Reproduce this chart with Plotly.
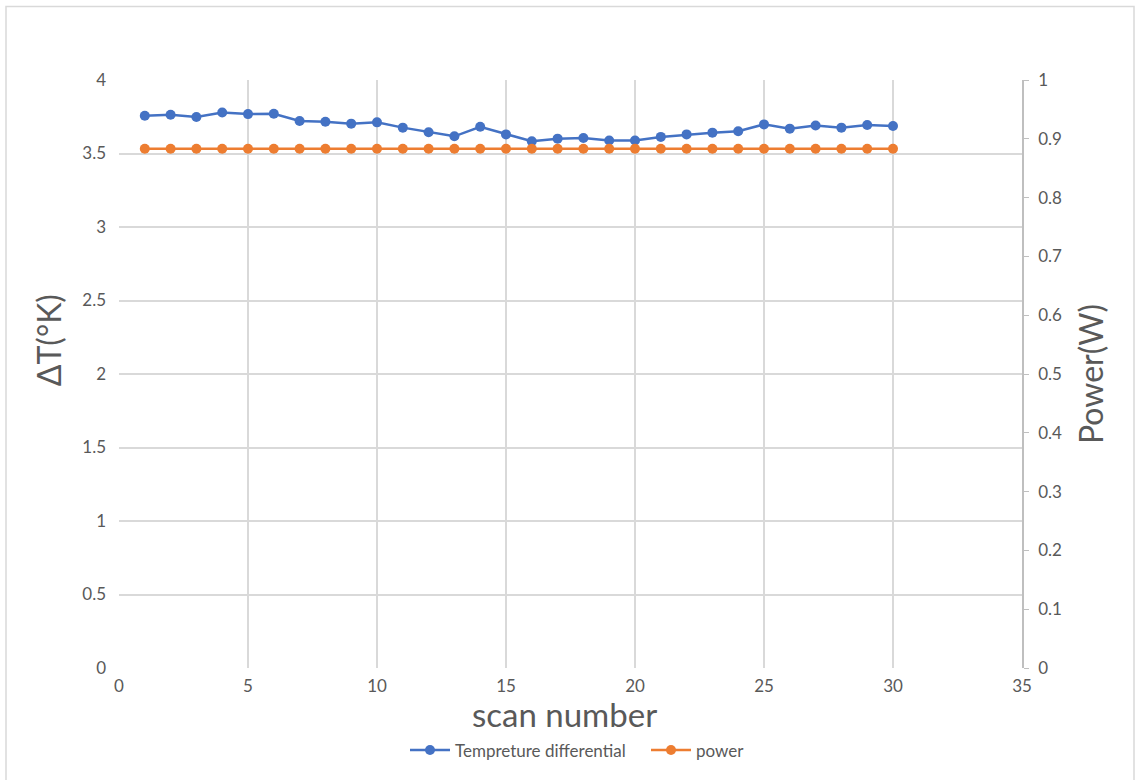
import plotly.graph_objects as go

# Scan index and measured series
scan_number = list(range(1, 31))
temp_diff = [3.757, 3.764, 3.748, 3.779, 3.768, 3.770, 3.721, 3.716, 3.703, 3.712,
             3.676, 3.644, 3.617, 3.682, 3.630, 3.583, 3.601, 3.606, 3.588, 3.588,
             3.613, 3.630, 3.642, 3.651, 3.698, 3.669, 3.691, 3.676, 3.694, 3.687]
power = [0.883] * 30

BLUE = "#4472C4"
ORANGE = "#ED7D31"
GRID = "#D9D9D9"
TEXT = "#595959"
FONT = "Lato, 'Open Sans', sans-serif"

fig = go.Figure()
fig.add_trace(go.Scatter(
    x=scan_number, y=temp_diff, name="Tempreture differential",
    mode="lines+markers", line=dict(color=BLUE, width=2.5),
    marker=dict(color=BLUE, size=10), yaxis="y"))
fig.add_trace(go.Scatter(
    x=scan_number, y=power, name="power",
    mode="lines+markers", line=dict(color=ORANGE, width=2.5),
    marker=dict(color=ORANGE, size=10), yaxis="y2"))

W, H = 1136, 780
L, R, T, B = 119, 114, 80, 108
pw, ph = W - L - R, H - T - B

def px(x):
    return (x - L) / pw

def py(y):
    return (H - B - y) / ph

fig.update_layout(
    width=W, height=H,
    margin=dict(l=L, r=R, t=T, b=B),
    paper_bgcolor="white", plot_bgcolor="white",
    font=dict(family=FONT, color=TEXT, size=17),
    showlegend=True,
    legend=dict(orientation="h", x=px(405), xanchor="left", y=py(755), yanchor="middle",
                font=dict(size=17, color=TEXT), itemwidth=40,
                entrywidth=186, entrywidthmode="pixels"),
    xaxis=dict(range=[0, 35], dtick=5, tick0=0, showgrid=True, gridcolor=GRID, gridwidth=1.5,
               zeroline=False, showline=False, ticks="", ticklabelstandoff=6,
               tickfont=dict(size=17, color=TEXT)),
    yaxis=dict(range=[0, 4], dtick=0.5, tick0=0, showgrid=True, gridcolor=GRID, gridwidth=1.5,
               zeroline=False, showline=False, ticks="", ticklabelstandoff=12,
               tickfont=dict(size=17, color=TEXT)),
    yaxis2=dict(range=[0, 1], dtick=0.1, tick0=0, overlaying="y", side="right",
                showgrid=False, zeroline=False, showline=True, linecolor="#BFBFBF", linewidth=1.5,
                ticks="outside", ticklen=5, tickcolor="#BFBFBF", ticklabelstandoff=6,
                tickfont=dict(size=17, color=TEXT)),
    annotations=[
        dict(text="scan number", x=px(564), y=py(718), xref="paper", yref="paper",
             showarrow=False, font=dict(size=33, color=TEXT), xanchor="center", yanchor="middle"),
        dict(text="ΔT(°K)", x=px(48), y=py(342), xref="paper", yref="paper", textangle=-90,
             showarrow=False, font=dict(size=32, color=TEXT), xanchor="center", yanchor="middle"),
        dict(text="Power(W)", x=px(1090), y=py(376), xref="paper", yref="paper", textangle=-90,
             showarrow=False, font=dict(size=32, color=TEXT), xanchor="center", yanchor="middle"),
    ],
    shapes=[
        dict(type="rect", xref="paper", yref="paper",
             x0=px(6), x1=px(1134), y0=py(6), y1=py(800),
             line=dict(color="#D9D9D9", width=1.5), fillcolor="rgba(0,0,0,0)", layer="below"),
    ],
)

fig.write_html("out.html")
